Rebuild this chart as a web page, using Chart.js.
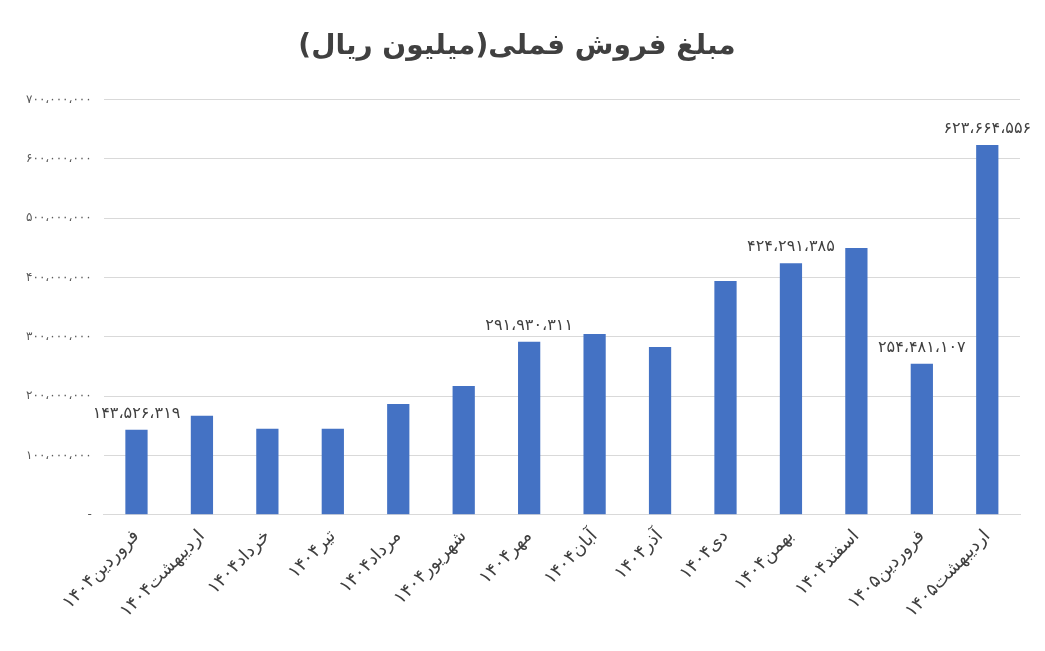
<!DOCTYPE html>
<html><head><meta charset="utf-8">
<script src="https://cdn.jsdelivr.net/npm/chart.js@4"></script>
<style>body{margin:0;background:#fff}#w{width:1045px;height:651px}</style>
</head><body><div id="w"><canvas id="c"></canvas></div>
<script>
const months = ["فروردین۱۴۰۴","اردیبهشت۱۴۰۴","خرداد۱۴۰۴","تیر۱۴۰۴","مرداد۱۴۰۴","شهریور۱۴۰۴","مهر۱۴۰۴","آبان۱۴۰۴","آذر۱۴۰۴","دی۱۴۰۴","بهمن۱۴۰۴","اسفند۱۴۰۴","فروردین۱۴۰۵","اردیبهشت۱۴۰۵"];
const sales = [143526319,167000000,145000000,145000000,187000000,217000000,291930311,305000000,283000000,394000000,424291385,450000000,254481107,623664556];
const labelled = [0,6,10,12,13];

const fa = v => v.toLocaleString('fa-IR').replace(/٬/g, '،');

const valueLabels = {
  id: 'valueLabels',
  afterDatasetsDraw(chart) {
    const ctx = chart.ctx;
    const meta = chart.getDatasetMeta(0);
    ctx.save();
    ctx.font = '16px "DejaVu Sans"';
    ctx.fillStyle = '#404040';
    ctx.textAlign = 'center';
    ctx.textBaseline = 'bottom';
    labelled.forEach(i => {
      const el = meta.data[i];
      ctx.fillText(fa(sales[i]), el.x, el.y - 8);
    });
    ctx.restore();
  }
};

new Chart(document.getElementById('c'), {
  type: 'bar',
  data: {
    labels: months,
    datasets: [{ data: sales, backgroundColor: '#4472c4', barPercentage: 0.34, categoryPercentage: 1 }]
  },
  options: {
    responsive: true,
    maintainAspectRatio: false,
    animation: false,
    layout: { padding: { left: 14, right: 25, top: 10, bottom: 26 } },
    plugins: {
      legend: { display: false },
      tooltip: { enabled: false },
      title: {
        display: true,
        text: 'مبلغ فروش فملی(میلیون ریال)',
        color: '#404040',
        font: { family: 'DejaVu Sans', size: 28, weight: 'bold' },
        padding: { top: 20, bottom: 36 }
      }
    },
    scales: {
      y: {
        min: 0, max: 700000000,
        ticks: {
          stepSize: 100000000,
          color: '#595959',
          padding: 12,
          font: { family: 'DejaVu Sans', size: 12 },
          callback: v => v === 0 ? '-' : fa(v)
        },
        grid: { color: '#d9d9d9', drawTicks: false },
        border: { display: false }
      },
      x: {
        ticks: {
          color: '#404040',
          font: { family: 'DejaVu Sans', size: 18 },
          minRotation: 46, maxRotation: 46
        },
        grid: { display: false },
        border: { color: '#d9d9d9' }
      }
    }
  },
  plugins: [valueLabels]
});
</script></body></html>
